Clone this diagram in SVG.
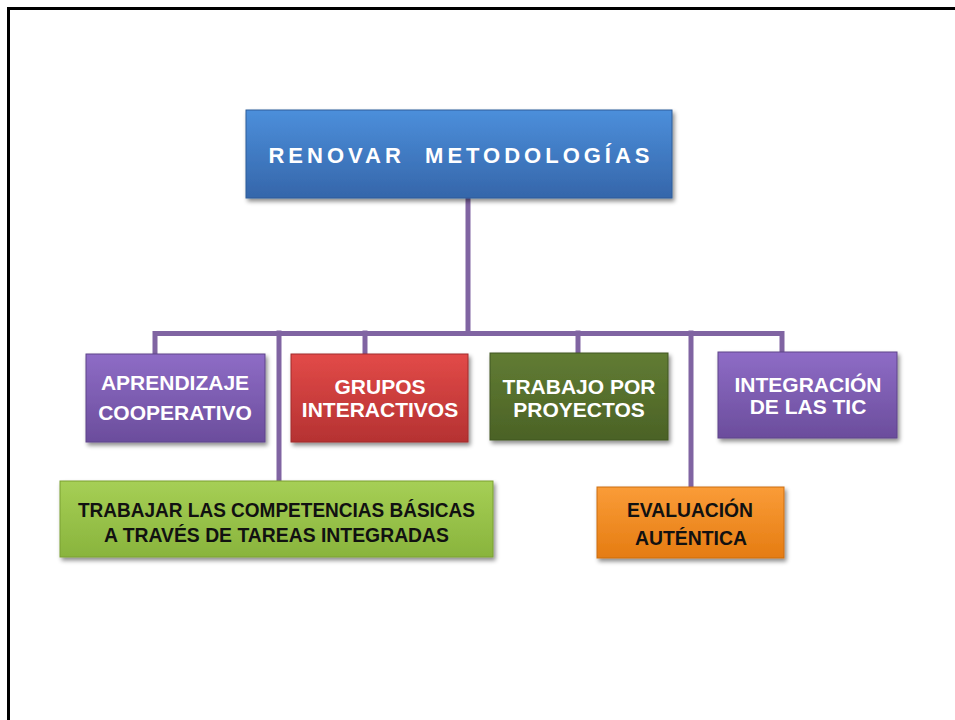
<svg xmlns="http://www.w3.org/2000/svg" width="955" height="720" viewBox="0 0 955 720">
<style>
.lbl{font-family:"Liberation Sans",Arial,sans-serif;font-weight:bold;fill:#ffffff;text-anchor:middle;font-size:21px}
.dark{font-family:"Liberation Sans",Arial,sans-serif;font-weight:bold;fill:#111111;text-anchor:middle}
.conn{stroke:#8064a2;stroke-width:5;fill:none;stroke-linejoin:miter;stroke-linecap:square}
.box{filter:url(#sh)}
</style>
<defs>
<filter id="sh" x="-10%" y="-10%" width="130%" height="140%">
<feDropShadow dx="2" dy="3" stdDeviation="2" flood-color="#000" flood-opacity="0.45"/>
</filter>
<linearGradient id="gBlue" x1="0" y1="0" x2="0" y2="1"><stop offset="0" stop-color="#4c8fdb"/><stop offset="1" stop-color="#3566aa"/></linearGradient>
<linearGradient id="gPurple" x1="0" y1="0" x2="0" y2="1"><stop offset="0" stop-color="#8e6cc6"/><stop offset="1" stop-color="#6b4d9c"/></linearGradient>
<linearGradient id="gRed" x1="0" y1="0" x2="0" y2="1"><stop offset="0" stop-color="#e24a48"/><stop offset="1" stop-color="#b53232"/></linearGradient>
<linearGradient id="gOlive" x1="0" y1="0" x2="0" y2="1"><stop offset="0" stop-color="#617c33"/><stop offset="1" stop-color="#4b6226"/></linearGradient>
<linearGradient id="gLime" x1="0" y1="0" x2="0" y2="1"><stop offset="0" stop-color="#a6cf55"/><stop offset="1" stop-color="#89b43d"/></linearGradient>
<linearGradient id="gOrange" x1="0" y1="0" x2="0" y2="1"><stop offset="0" stop-color="#fa9c38"/><stop offset="1" stop-color="#e57c12"/></linearGradient>
</defs>
<rect x="0" y="0" width="955" height="720" fill="#ffffff"/>
<path d="M8.5 720 V8.5 H955" stroke="#000" stroke-width="3" fill="none"/>

<g id="connectors">
<path class="conn" d="M468 198 V333"/>
<path class="conn" d="M155 353 V333.5 H782 V352"/>
<path class="conn" d="M279 333 V481"/>
<path class="conn" d="M365 333 V354"/>
<path class="conn" d="M578 333 V353"/>
<path class="conn" d="M691 333 V487"/>
</g>

<g id="renovar">
<rect class="box" x="246" y="110" width="426" height="88" fill="url(#gBlue)" stroke="#2f5c9a" stroke-width="1"/>
<text x="461" y="163" class="lbl" xml:space="preserve" style="font-size:22px;letter-spacing:4px;white-space:pre">RENOVAR  METODOLOGÍAS</text>
</g>

<g id="aprendizaje">
<rect class="box" x="86" y="354" width="179" height="88" fill="url(#gPurple)" stroke="#5f448a" stroke-width="1"/>
<text x="175" y="390" class="lbl">APRENDIZAJE</text>
<text x="175" y="420" class="lbl">COOPERATIVO</text>
</g>

<g id="grupos">
<rect class="box" x="291" y="354" width="177" height="88" fill="url(#gRed)" stroke="#a02c2c" stroke-width="1"/>
<text x="380" y="394" class="lbl">GRUPOS</text>
<text x="380" y="417" class="lbl">INTERACTIVOS</text>
</g>

<g id="trabajo">
<rect class="box" x="490" y="353" width="178" height="87" fill="url(#gOlive)" stroke="#415622" stroke-width="1"/>
<text x="579" y="394" class="lbl">TRABAJO POR</text>
<text x="579" y="417" class="lbl">PROYECTOS</text>
</g>

<g id="integracion">
<rect class="box" x="718" y="352" width="179" height="86" fill="url(#gPurple)" stroke="#5f448a" stroke-width="1"/>
<text x="808" y="392" class="lbl">INTEGRACIÓN</text>
<text x="808" y="414" class="lbl">DE LAS TIC</text>
</g>

<g id="competencias">
<rect class="box" x="60" y="481" width="433" height="76" fill="url(#gLime)" stroke="#7aa033" stroke-width="1"/>
<text x="276.5" y="517" class="dark" font-size="21" textLength="397" lengthAdjust="spacingAndGlyphs">TRABAJAR LAS COMPETENCIAS BÁSICAS</text>
<text x="276.5" y="542" class="dark" font-size="21" textLength="345" lengthAdjust="spacingAndGlyphs">A TRAVÉS DE TAREAS INTEGRADAS</text>
</g>

<g id="evaluacion">
<rect class="box" x="597" y="487" width="187" height="71" fill="url(#gOrange)" stroke="#cc6e10" stroke-width="1"/>
<text x="690" y="517" class="dark" font-size="20" textLength="126" lengthAdjust="spacingAndGlyphs">EVALUACIÓN</text>
<text x="691" y="545" class="dark" font-size="20" textLength="112" lengthAdjust="spacingAndGlyphs">AUTÉNTICA</text>
</g>
</svg>
